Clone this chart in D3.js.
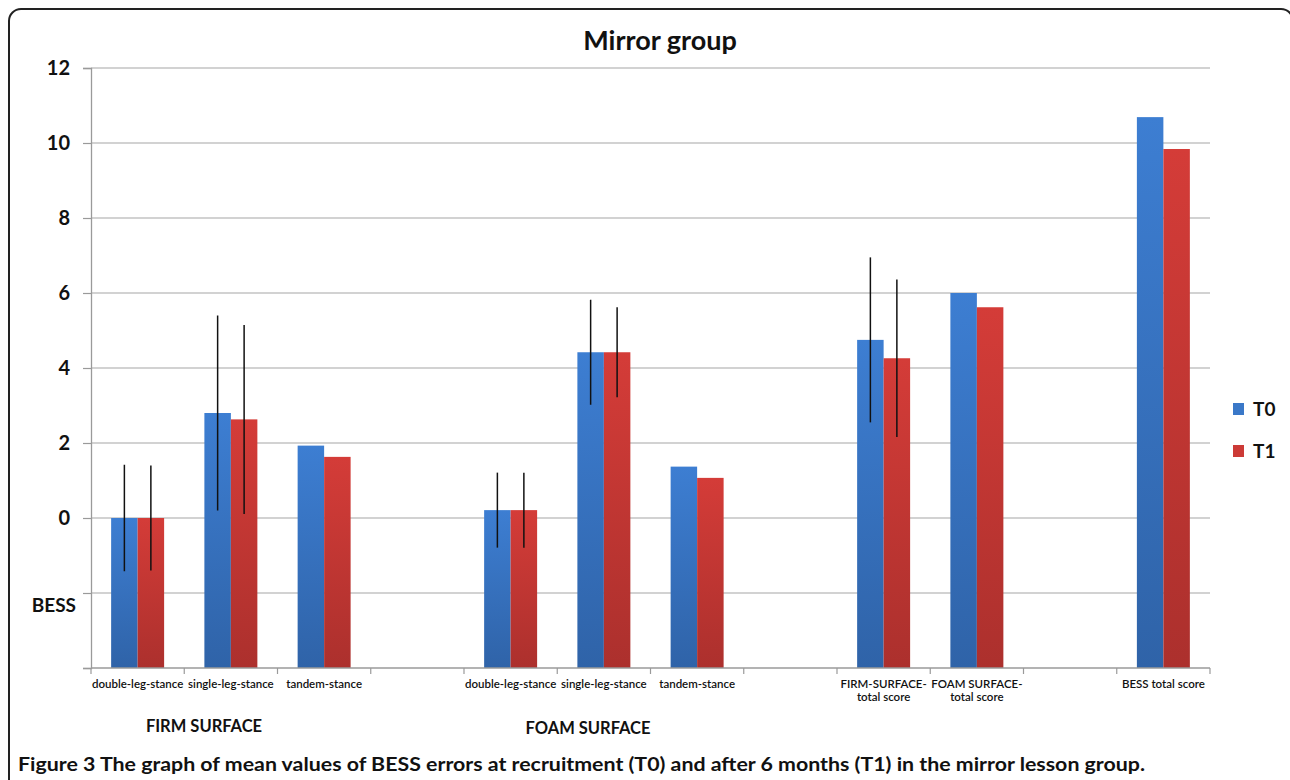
<!DOCTYPE html>
<html>
<head>
<meta charset="utf-8">
<script src="https://cdn.jsdelivr.net/npm/d3@7"></script>
<style>
  body { margin: 0; background: #fff; }
  svg text { font-family: Lato, "Open Sans", sans-serif; }
</style>
</head>
<body>
<div id="chart"></div>
<script>
// categories (blank slots are the gaps between groups)
var categories = ["double-leg-stance", "single-leg-stance", "tandem-stance", "",
                  "double-leg-stance", "single-leg-stance", "tandem-stance", "",
                  "FIRM-SURFACE-|total score", "FOAM SURFACE-|total score", "",
                  "BESS total score"];
var t0Values = [0, 2.8, 1.93, null, 0.21, 4.42, 1.37, null, 4.75, 6.0, null, 10.69];
var t1Values = [0, 2.63, 1.63, null, 0.21, 4.42, 1.07, null, 4.26, 5.62, null, 9.84];
var t0Err = [1.42, 2.6, null, null, 1.0, 1.4, null, null, 2.2, null, null, null];
var t1Err = [1.4, 2.52, null, null, 1.0, 1.2, null, null, 2.1, null, null, null];
var seriesNames = ["T0", "T1"];
var yTicks = [-4, -2, 0, 2, 4, 6, 8, 10, 12];
var yTickLabels = ["", "", "0", "2", "4", "6", "8", "10", "12"];
var groupLabels = ["FIRM SURFACE", "FOAM SURFACE"];

var W = 1290, H = 780;
var plotLeft = 91, plotRight = 1210, plotTop = 68, plotBottom = 668;

var svg = d3.select("#chart").append("svg")
    .attr("width", W)
    .attr("height", H);

var defs = svg.append("defs");
function grad(id, c1, c2) {
  var g = defs.append("linearGradient").attr("id", id)
      .attr("x1", 0).attr("y1", 0).attr("x2", 0).attr("y2", 1);
  g.append("stop").attr("offset", "0%").attr("stop-color", c1);
  g.append("stop").attr("offset", "100%").attr("stop-color", c2);
}
grad("gT0", "#3d7ed2", "#2f63a8");
grad("gT1", "#d43c38", "#ac302d");
var fills = {T0: "url(#gT0)", T1: "url(#gT1)"};
var solid = {T0: "#3a78c8", T1: "#cc3a36"};

// outer frame
svg.append("rect")
    .attr("x", 9).attr("y", 9)
    .attr("width", 1284).attr("height", 800)
    .attr("rx", 12)
    .attr("fill", "none")
    .attr("stroke", "#222")
    .attr("stroke-width", 2);

var y = d3.scaleLinear().domain([-4, 12]).range([plotBottom, plotTop]);
var keys = categories.map(function (c, i) { return "c" + i; });
var x = d3.scaleBand().domain(keys).range([plotLeft, plotRight]).padding(0);
var x1 = d3.scaleBand().domain(seriesNames).range([0, x.bandwidth()]).paddingOuter(0.76);

// gridlines
svg.append("g").selectAll("line")
  .data(yTicks.filter(function (d) { return d > -4; }))
  .enter().append("line")
    .attr("x1", plotLeft).attr("x2", plotRight)
    .attr("y1", function (d) { return y(d); })
    .attr("y2", function (d) { return y(d); })
    .attr("stroke", "#a6a6a6")
    .attr("stroke-width", 1.2);

// left axis
var yAxis = d3.axisLeft(y).tickValues(yTicks).tickSize(8)
    .tickFormat(function (d, i) { return yTickLabels[i]; });
var ya = svg.append("g").attr("transform", "translate(" + plotLeft + ",0)").call(yAxis);
ya.select(".domain").attr("stroke", "#9a9a9a").attr("stroke-width", 1.3);
ya.selectAll(".tick line").attr("stroke", "#9a9a9a").attr("stroke-width", 1.2);
ya.selectAll(".tick text")
    .attr("x", -21)
    .attr("font-size", 20)
    .attr("font-weight", "bold")
    .attr("fill", "#111");

svg.append("text")
    .attr("x", 76).attr("y", 612)
    .attr("text-anchor", "end")
    .attr("font-size", 19)
    .attr("font-weight", "bold")
    .attr("fill", "#111")
    .text("BESS");

// bars
var rows = [];
categories.forEach(function (c, i) {
  if (t0Values[i] !== null) rows.push({k: keys[i], s: "T0", v: t0Values[i], e: t0Err[i]});
  if (t1Values[i] !== null) rows.push({k: keys[i], s: "T1", v: t1Values[i], e: t1Err[i]});
});

svg.append("g").selectAll("rect")
  .data(rows)
  .enter().append("rect")
    .attr("x", function (d) { return x(d.k) + x1(d.s); })
    .attr("width", x1.bandwidth())
    .attr("y", function (d) { return y(d.v); })
    .attr("height", function (d) { return y(-4) - y(d.v); })
    .attr("fill", function (d) { return fills[d.s]; });

// error bars
svg.append("g").selectAll("line")
  .data(rows.filter(function (d) { return d.e !== null; }))
  .enter().append("line")
    .attr("x1", function (d) { return x(d.k) + x1(d.s) + x1.bandwidth() / 2; })
    .attr("x2", function (d) { return x(d.k) + x1(d.s) + x1.bandwidth() / 2; })
    .attr("y1", function (d) { return y(d.v + d.e); })
    .attr("y2", function (d) { return y(d.v - d.e); })
    .attr("stroke", "#111")
    .attr("stroke-width", 1.5);

// bottom axis
var boundaries = keys.map(function (k) { return x(k); }).concat([plotRight]);
var xa = svg.append("g");
xa.append("line")
    .attr("x1", plotLeft).attr("x2", plotRight)
    .attr("y1", plotBottom).attr("y2", plotBottom)
    .attr("stroke", "#9a9a9a").attr("stroke-width", 1.3);
xa.selectAll(".tk").data(boundaries).enter().append("line")
    .attr("class", "tk")
    .attr("x1", function (d) { return d; }).attr("x2", function (d) { return d; })
    .attr("y1", plotBottom).attr("y2", plotBottom + 6)
    .attr("stroke", "#9a9a9a").attr("stroke-width", 1.2);

var xl = xa.selectAll(".lbl").data(categories).enter().append("text")
    .attr("class", "lbl")
    .attr("text-anchor", "middle")
    .attr("font-size", 11.5)
    .attr("font-weight", 600)
    .attr("fill", "#111")
    .attr("transform", function (d, i) {
      return "translate(" + (x(keys[i]) + x.bandwidth() / 2) + "," + 688 + ")";
    });
xl.each(function (d) {
  var parts = d.split("|");
  var t = d3.select(this);
  parts.forEach(function (p, j) {
    t.append("tspan").attr("x", 0).attr("dy", j === 0 ? 0 : 13).text(p);
  });
});

// group labels
svg.selectAll(".grp").data(groupLabels).enter().append("text")
    .attr("class", "grp")
    .attr("x", function (d, i) { return i === 0 ? 204 : 588; })
    .attr("y", function (d, i) { return i === 0 ? 732 : 734; })
    .attr("text-anchor", "middle")
    .attr("font-size", 16.5)
    .attr("font-weight", "bold")
    .attr("fill", "#111")
    .text(function (d) { return d; });

// title
svg.append("text")
    .attr("x", 660).attr("y", 50)
    .attr("text-anchor", "middle")
    .attr("font-size", 27)
    .attr("font-weight", "bold")
    .attr("fill", "#111")
    .text("Mirror group");

// legend
var lg = svg.selectAll(".leg").data(seriesNames).enter().append("g")
    .attr("class", "leg")
    .attr("transform", function (d, i) { return "translate(1233," + (403 + i * 42) + ")"; });
lg.append("rect").attr("width", 11).attr("height", 12)
    .attr("fill", function (d) { return solid[d]; });
lg.append("text").attr("x", 20).attr("y", 13)
    .attr("font-size", 19).attr("font-weight", "bold").attr("fill", "#111")
    .text(function (d) { return d; });

// caption
svg.append("text")
    .attr("x", 18).attr("y", 771)
    .attr("font-size", 19)
    .attr("font-weight", "bold")
    .attr("fill", "#111")
    .attr("textLength", 1127)
    .attr("lengthAdjust", "spacingAndGlyphs")
    .text("Figure 3 The graph of mean values of BESS errors at recruitment (T0) and after 6 months (T1) in the mirror lesson group.");
</script>
</body>
</html>
